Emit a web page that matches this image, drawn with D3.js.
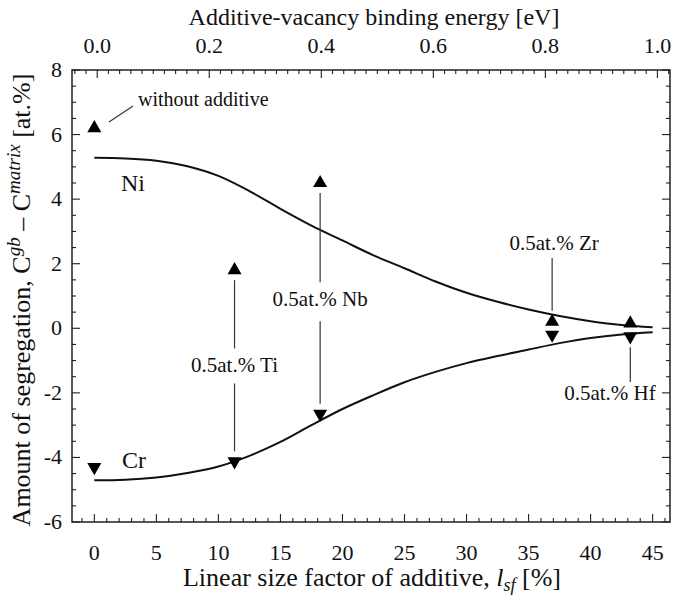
<!DOCTYPE html>
<html>
<head>
<meta charset="utf-8">
<script src="https://cdn.jsdelivr.net/npm/d3@7"></script>
<style>
  html, body { margin: 0; padding: 0; background: #fff; }
  svg { display: block; }
  text { font-family: "Liberation Serif", "DejaVu Serif", serif; fill: #111; }
</style>
</head>
<body>
<svg id="chart" width="674" height="596"></svg>
<script>
// Model curves: amount of segregation vs. linear size factor
const curveX  = [0, 2.5, 5, 7.5, 10, 12.5, 15, 17.5, 20, 22.5, 25, 27.5, 30, 32.5, 35, 37.5, 40, 42.5, 45];
const niCurve = [5.28, 5.26, 5.19, 5.02, 4.72, 4.25, 3.70, 3.18, 2.72, 2.26, 1.86, 1.45, 1.10, 0.82, 0.58, 0.38, 0.22, 0.10, 0.03];
const crCurve = [-4.71, -4.69, -4.62, -4.48, -4.28, -3.95, -3.52, -3.00, -2.50, -2.07, -1.67, -1.35, -1.08, -0.86, -0.66, -0.46, -0.30, -0.19, -0.12];

// Measured segregation for each additive
const additives  = ["none", "Ti", "Nb", "Zr", "Hf"];
const sizeFactor = [0, 11.3, 18.2, 36.9, 43.2];
const niMeasured = [6.2, 1.8, 4.5, 0.2, 0.15];
const crMeasured = [-4.3, -4.12, -2.65, -0.2, -0.25];

// Axis ticks
const xTicks      = [0, 5, 10, 15, 20, 25, 30, 35, 40, 45];
const yTicks      = [-6, -4, -2, 0, 2, 4, 6, 8];
const energyTicks = [0.0, 0.2, 0.4, 0.6, 0.8, 1.0];

const svg = d3.select("#chart");
const L = 72, R = 670, T = 70, B = 522;

const x = d3.scaleLinear().domain([-1.8, 46.4]).range([L, R]);
const y = d3.scaleLinear().domain([-6, 8]).range([B, T]);
const xE = d3.scaleLinear().domain([-0.045, 1.0225]).range([L, R]);

// Frame
svg.append("rect").attr("x", L).attr("y", T).attr("width", R - L).attr("height", B - T)
  .attr("fill", "none").attr("stroke", "#111").attr("stroke-width", 1.4);

// Inward ticks
const g = svg.append("g").attr("stroke", "#222").attr("stroke-width", 1.1);
const near = (a, b) => Math.abs(a - b) < 1e-6;
function ticks(values, majors, draw) {
  values.forEach(v => draw(v, majors.some(t => near(t, v))));
}

// Bottom axis: minor every 1, major every 5
ticks(d3.range(-1, 47, 1), xTicks, (v, M) => {
  g.append("line").attr("x1", x(v)).attr("x2", x(v)).attr("y1", B).attr("y2", B - (M ? 8 : 4));
});
// Top axis: minor every 0.02, major every 0.2
ticks(d3.range(-0.04, 1.021, 0.02).map(v => +v.toFixed(2)), energyTicks, (v, M) => {
  g.append("line").attr("x1", xE(v)).attr("x2", xE(v)).attr("y1", T).attr("y2", T + (M ? 8 : 4));
});
// Left and right axes: minor every 0.5, major every 2
ticks(d3.range(-6, 8.01, 0.5), yTicks, (v, M) => {
  const len = M ? 8 : 4;
  g.append("line").attr("x1", L).attr("x2", L + len).attr("y1", y(v)).attr("y2", y(v));
  g.append("line").attr("x1", R).attr("x2", R - len).attr("y1", y(v)).attr("y2", y(v));
});

// Tick labels
svg.append("g").selectAll("text").data(xTicks).join("text")
  .attr("x", d => x(d)).attr("y", 560).attr("text-anchor", "middle")
  .attr("font-size", 22).text(d => d);
svg.append("g").selectAll("text").data(yTicks).join("text")
  .attr("x", 62).attr("y", d => y(d) + 7).attr("text-anchor", "end")
  .attr("font-size", 22).text(d => d);
svg.append("g").selectAll("text").data(energyTicks).join("text")
  .attr("x", d => xE(d)).attr("y", 53).attr("text-anchor", "middle")
  .attr("font-size", 22).text(d => d.toFixed(1));

// Axis titles
svg.append("text").attr("x", 374).attr("y", 25).attr("text-anchor", "middle")
  .attr("font-size", 24).text("Additive-vacancy binding energy [eV]");

const xt = svg.append("text").attr("x", 372).attr("y", 586).attr("text-anchor", "middle")
  .attr("font-size", 26);
xt.append("tspan").text("Linear size factor of additive, ");
xt.append("tspan").attr("font-style", "italic").text("l");
xt.append("tspan").attr("font-style", "italic").attr("font-size", 18).attr("dy", 5).text("sf");
xt.append("tspan").attr("dy", -5).text(" [%]");

const yt = svg.append("text").attr("transform", "translate(30,300) rotate(-90)")
  .attr("text-anchor", "middle").attr("font-size", 26);
yt.append("tspan").text("Amount of segregation, C");
yt.append("tspan").attr("font-style", "italic").attr("font-size", 19).attr("dy", -10).text("gb");
yt.append("tspan").attr("dy", 10).text(" \u2013 C");
yt.append("tspan").attr("font-style", "italic").attr("font-size", 19).attr("dy", -10).text("matrix");
yt.append("tspan").attr("dy", 10).text(" [at.%]");

// Model curves
const line = d3.line().x((d, i) => x(curveX[i])).y(d => y(d)).curve(d3.curveMonotoneX);
svg.append("path").attr("d", line(niCurve)).attr("fill", "none").attr("stroke", "#111").attr("stroke-width", 2);
svg.append("path").attr("d", line(crCurve)).attr("fill", "none").attr("stroke", "#111").attr("stroke-width", 2);

// Element labels on the curves
svg.append("text").attr("x", 133).attr("y", 191).attr("text-anchor", "middle").attr("font-size", 24).text("Ni");
svg.append("text").attr("x", 134).attr("y", 468).attr("text-anchor", "middle").attr("font-size", 24).text("Cr");

// Connector lines between paired measurements, broken around the additive label
const ann = {
  Ti: { ly: -1.15, gapUp: 17, gapDn: 18 },
  Nb: { ly: 0.9, gapUp: 17, gapDn: 22 }
};
const lineG = svg.append("g").attr("stroke", "#333").attr("stroke-width", 1.2);
["Ti", "Nb"].forEach(name => {
  const i = additives.indexOf(name);
  const cx = x(sizeFactor[i]);
  const ly = y(ann[name].ly);
  lineG.append("line").attr("x1", cx).attr("x2", cx).attr("y1", y(niMeasured[i]) + 10).attr("y2", ly - ann[name].gapUp);
  lineG.append("line").attr("x1", cx).attr("x2", cx).attr("y1", ly + ann[name].gapDn).attr("y2", y(crMeasured[i]) - 10);
  svg.append("text").attr("x", cx).attr("y", ly + 7).attr("text-anchor", "middle")
    .attr("font-size", 21).text("0.5at.% " + name);
});
// Zr: label above, line down to the Ni point
{
  const i = additives.indexOf("Zr");
  const cx = x(sizeFactor[i]);
  lineG.append("line").attr("x1", cx).attr("x2", cx).attr("y1", 258).attr("y2", y(niMeasured[i]) - 11);
  svg.append("text").attr("x", cx + 2).attr("y", 250).attr("text-anchor", "middle")
    .attr("font-size", 21).text("0.5at.% Zr");
}
// Hf: label below, line up to the Cr point
{
  const i = additives.indexOf("Hf");
  const cx = x(sizeFactor[i]);
  lineG.append("line").attr("x1", cx).attr("x2", cx).attr("y1", y(crMeasured[i]) + 11).attr("y2", 382);
  svg.append("text").attr("x", 610).attr("y", 400).attr("text-anchor", "middle")
    .attr("font-size", 21).text("0.5at.% Hf");
}

// "without additive" note
svg.append("line").attr("x1", 109).attr("y1", 122).attr("x2", 133).attr("y2", 106)
  .attr("stroke", "#333").attr("stroke-width", 1.1);
svg.append("text").attr("x", 138).attr("y", 106).attr("font-size", 20).text("without additive");

// Measured points: up triangles (Ni), down triangles (Cr)
const tri = d3.symbol().type(d3.symbolTriangle).size(85);
svg.append("g").selectAll("path").data(niMeasured).join("path")
  .attr("d", tri).attr("fill", "#000")
  .attr("transform", (d, i) => `translate(${x(sizeFactor[i])},${y(d)})`);
svg.append("g").selectAll("path").data(crMeasured).join("path")
  .attr("d", tri).attr("fill", "#000")
  .attr("transform", (d, i) => `translate(${x(sizeFactor[i])},${y(d)}) rotate(180)`);
</script>
</body>
</html>
